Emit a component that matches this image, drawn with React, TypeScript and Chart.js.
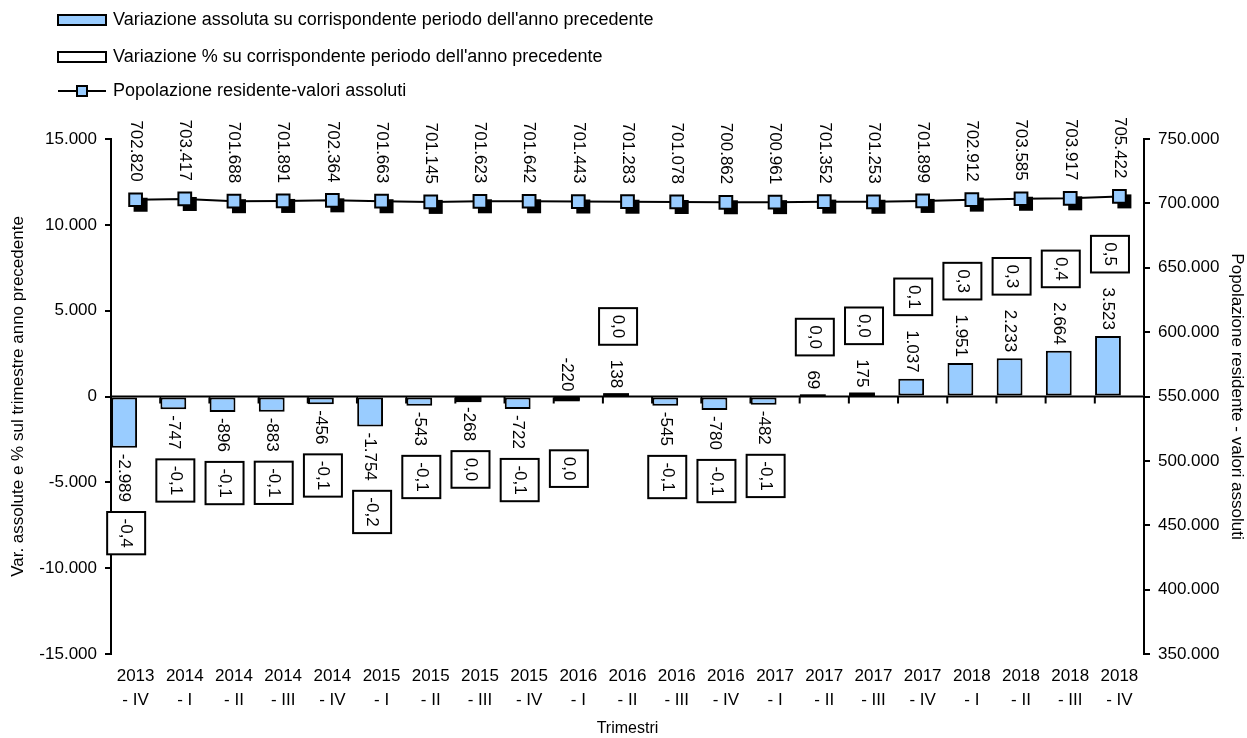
import { useEffect, useRef } from 'react';
import { Chart, registerables } from 'chart.js';

Chart.register(...registerables);

// ---------- data ----------
const quarters = [
  '2013 - IV',
  '2014 - I', '2014 - II', '2014 - III', '2014 - IV',
  '2015 - I', '2015 - II', '2015 - III', '2015 - IV',
  '2016 - I', '2016 - II', '2016 - III', '2016 - IV',
  '2017 - I', '2017 - II', '2017 - III', '2017 - IV',
  '2018 - I', '2018 - II', '2018 - III', '2018 - IV',
];

const absVariation = [
  -2989, -747, -896, -883, -456, -1754, -543, -268, -722, -220, 138,
  -545, -780, -482, 69, 175, 1037, 1951, 2233, 2664, 3523,
];

const pctVariation = [
  -0.4, -0.1, -0.1, -0.1, -0.1, -0.2, -0.1, 0.0, -0.1, 0.0, 0.0,
  -0.1, -0.1, -0.1, 0.0, 0.0, 0.1, 0.3, 0.3, 0.4, 0.5,
];

const population = [
  702820, 703417, 701688, 701891, 702364, 701663, 701145, 701623, 701642,
  701443, 701283, 701078, 700862, 700961, 701352, 701253, 701899, 702912,
  703585, 703917, 705422,
];

const SERIES_ABS = 'Variazione assoluta su corrispondente periodo dell\'anno precedente';
const SERIES_PCT = 'Variazione % su corrispondente periodo dell\'anno precedente';
const SERIES_POP = 'Popolazione residente-valori assoluti';
const LEFT_TITLE = 'Var. assolute e % sul trimestre anno precedente';
const RIGHT_TITLE = 'Popolazione residente - valori assoluti';
const X_TITLE = 'Trimestri';

// ---------- helpers ----------
const FONT = '"Liberation Sans", Arial, Helvetica, sans-serif';
const BLUE = '#99CCFF';

function fmtThousands(v: number): string {
  const s = Math.abs(Math.round(v)).toString().replace(/\B(?=(\d{3})+(?!\d))/g, '.');
  return (v < 0 ? '-' : '') + s;
}
function fmtPct(v: number): string {
  return v.toFixed(1).replace('.', ',');
}

function drawRotated(ctx: CanvasRenderingContext2D, text: string, x: number, y: number, align: CanvasTextAlign) {
  ctx.save();
  ctx.translate(x, y);
  ctx.rotate(Math.PI / 2);
  ctx.textAlign = align;
  ctx.textBaseline = 'middle';
  ctx.fillText(text, 0, 0);
  ctx.restore();
}

const axisDecorPlugin = {
  id: 'axisDecor',
  beforeDatasetsDraw(chart: any) {
    const { ctx, chartArea } = chart;
    const y0 = chart.scales.y.getPixelForValue(0);
    const n = quarters.length;
    const cw = (chartArea.right - chartArea.left) / n;
    ctx.save();
    ctx.strokeStyle = '#000';
    ctx.lineWidth = 2;
    for (let k = 1; k < n; k++) {
      const x = chartArea.left + k * cw;
      ctx.beginPath();
      ctx.moveTo(x, y0);
      ctx.lineTo(x, y0 + 7);
      ctx.stroke();
    }
    ctx.restore();
  },
  beforeDatasetDraw(chart: any, args: any) {
    if (args.index !== 2) return;
    const { ctx } = chart;
    const meta = chart.getDatasetMeta(2);
    ctx.save();
    ctx.fillStyle = '#000';
    meta.data.forEach((p: any) => {
      ctx.fillRect(p.x - 7 + 5, p.y - 7 + 5, 14, 14);
    });
    ctx.restore();
  },
  afterDatasetsDraw(chart: any) {
    const { ctx, chartArea } = chart;
    const y0 = chart.scales.y.getPixelForValue(0);
    ctx.save();
    ctx.strokeStyle = '#000';
    ctx.lineWidth = 2;

    const absMeta = chart.getDatasetMeta(0);
    // small bars read as solid black outlines in the original
    absMeta.data.forEach((bar: any) => {
      const h = Math.abs(bar.y - bar.base);
      if (h < 5) {
        const top = Math.min(bar.y, bar.base);
        ctx.fillStyle = '#000';
        ctx.fillRect(bar.x - bar.width / 2, top - 1, bar.width, h + 2);
      }
    });

    ctx.beginPath();
    ctx.moveTo(chartArea.left, y0);
    ctx.lineTo(chartArea.right, y0);
    ctx.stroke();

    ctx.font = `17px ${FONT}`;
    ctx.fillStyle = '#000';
    absMeta.data.forEach((bar: any, i: number) => {
      const v = absVariation[i];
      const txt = fmtThousands(v);
      const w = ctx.measureText(txt).width;
      const x = bar.x;
      const end = bar.y;
      const neg = v < 0;
      const labelAbove = !neg || v > -250;
      if (labelAbove) {
        const top = Math.min(end, bar.base) - 6 - w;
        drawRotated(ctx, txt, x, top, 'left');
      } else {
        drawRotated(ctx, txt, x, end + 6, 'left');
      }
      // percentage box
      const ptxt = fmtPct(pctVariation[i]);
      const pw = ctx.measureText(ptxt).width;
      const bh = pw + 13;
      const bw = 38;
      const cx = x + 2;
      let btop: number;
      if (neg) {
        btop = end + 6 + w + 10;
      } else {
        btop = end - 6 - w - 15 - bh;
      }
      ctx.fillStyle = '#fff';
      ctx.fillRect(cx - bw / 2, btop, bw, bh);
      ctx.strokeRect(cx - bw / 2, btop, bw, bh);
      ctx.fillStyle = '#000';
      drawRotated(ctx, ptxt, cx, btop + bh / 2, 'center');
    });

    const lineMeta = chart.getDatasetMeta(2);
    lineMeta.data.forEach((p: any, i: number) => {
      const txt = fmtThousands(population[i]);
      const w = ctx.measureText(txt).width;
      drawRotated(ctx, txt, p.x, p.y - 18 - w, 'left');
    });
    ctx.restore();
  },
  afterDraw(chart: any) {
    const { ctx } = chart;
    ctx.save();
    ctx.font = `18px ${FONT}`;
    ctx.textBaseline = 'middle';
    ctx.textAlign = 'left';
    ctx.lineWidth = 2;
    ctx.strokeStyle = '#000';
    const ds = chart.data.datasets;
    // item 1
    ctx.fillStyle = BLUE;
    ctx.fillRect(58, 15, 48, 10);
    ctx.strokeRect(58, 15, 48, 10);
    ctx.fillStyle = '#000';
    ctx.fillText(ds[0].label, 113, 20);
    // item 2
    ctx.fillStyle = '#fff';
    ctx.fillRect(58, 52, 48, 10);
    ctx.strokeRect(58, 52, 48, 10);
    ctx.fillStyle = '#000';
    ctx.fillText(ds[1].label, 113, 57);
    // item 3
    ctx.beginPath();
    ctx.moveTo(58, 91);
    ctx.lineTo(106, 91);
    ctx.stroke();
    ctx.fillStyle = BLUE;
    ctx.fillRect(77, 86, 10, 10);
    ctx.strokeRect(77, 86, 10, 10);
    ctx.fillStyle = '#000';
    ctx.fillText(ds[2].label, 113, 91);
    ctx.restore();
  },
};

export default function App() {
  const ref = useRef<HTMLCanvasElement | null>(null);

  useEffect(() => {
    document.body.style.margin = '0';
    const canvas = ref.current;
    if (!canvas) return;
    const labels = quarters.map((q) => [q.slice(0, 4), q.slice(5)]);
    const chart = new Chart(canvas, {
      type: 'bar',
      data: {
        labels,
        datasets: [
          {
            type: 'bar',
            label: SERIES_ABS,
            data: absVariation,
            backgroundColor: BLUE,
            borderColor: '#000',
            borderWidth: 2,
            borderSkipped: false,
            yAxisID: 'y',
            categoryPercentage: 0.93,
            barPercentage: 1.13,
          },
          {
            type: 'bar',
            label: SERIES_PCT,
            data: pctVariation,
            backgroundColor: '#fff',
            borderColor: '#000',
            borderWidth: 0,
            yAxisID: 'y',
            categoryPercentage: 0.93,
            barPercentage: 1.13,
          },
          {
            type: 'line',
            label: SERIES_POP,
            data: population,
            yAxisID: 'y2',
            borderColor: '#000',
            borderWidth: 2,
            pointStyle: 'rect',
            pointRadius: 9,
            pointBackgroundColor: BLUE,
            pointBorderColor: '#000',
            pointBorderWidth: 2,
            order: -1,
          },
        ] as any,
      },
      options: {
        animation: false,
        responsive: false,
        devicePixelRatio: 1,
        layout: { padding: { top: 139, left: 0, right: 0, bottom: 0 } },
        plugins: {
          legend: { display: false },
          tooltip: { enabled: false },
        },
        scales: {
          x: {
            grid: { display: false, drawTicks: false },
            border: { display: false },
            ticks: {
              font: { size: 17, family: FONT, lineHeight: 1.42 },
              color: '#000',
              padding: 10,
              maxRotation: 0,
              autoSkip: false,
            },
            title: {
              display: true,
              text: X_TITLE,
              font: { size: 16, family: FONT },
              color: '#000',
              padding: { top: 0, bottom: 0 },
            },
            afterFit: (s: any) => { s.height = 84; },
          },
          y: {
            position: 'left',
            min: -15000,
            max: 15000,
            ticks: {
              stepSize: 5000,
              callback: (v: any) => fmtThousands(Number(v)),
              font: { size: 17, family: FONT },
              color: '#000',
              padding: 8,
            },
            grid: { drawOnChartArea: false, color: '#000', lineWidth: 2, tickLength: 6 },
            border: { color: '#000', width: 2 },
            title: {
              display: true,
              text: LEFT_TITLE,
              font: { size: 17, family: FONT },
              color: '#000',
              padding: { top: 8, bottom: 0 },
            },
            afterFit: (s: any) => { s.width = 111; },
          },
          y2: {
            position: 'right',
            min: 350000,
            max: 750000,
            ticks: {
              stepSize: 50000,
              callback: (v: any) => fmtThousands(Number(v)),
              font: { size: 17, family: FONT },
              color: '#000',
              padding: 8,
            },
            grid: { drawOnChartArea: false, color: '#000', lineWidth: 2, tickLength: 6 },
            border: { color: '#000', width: 2 },
            title: {
              display: true,
              text: RIGHT_TITLE,
              font: { size: 17, family: FONT },
              color: '#000',
              padding: { top: 0, bottom: 0 },
            },
            afterFit: (s: any) => { s.width = 103; },
          },
        },
      } as any,
      plugins: [axisDecorPlugin],
    });
    return () => chart.destroy();
  }, []);

  return (
    <div style={{ width: 1247, height: 738 }}>
      <canvas ref={ref} width={1247} height={738} style={{ display: 'block' }} />
    </div>
  );
}
